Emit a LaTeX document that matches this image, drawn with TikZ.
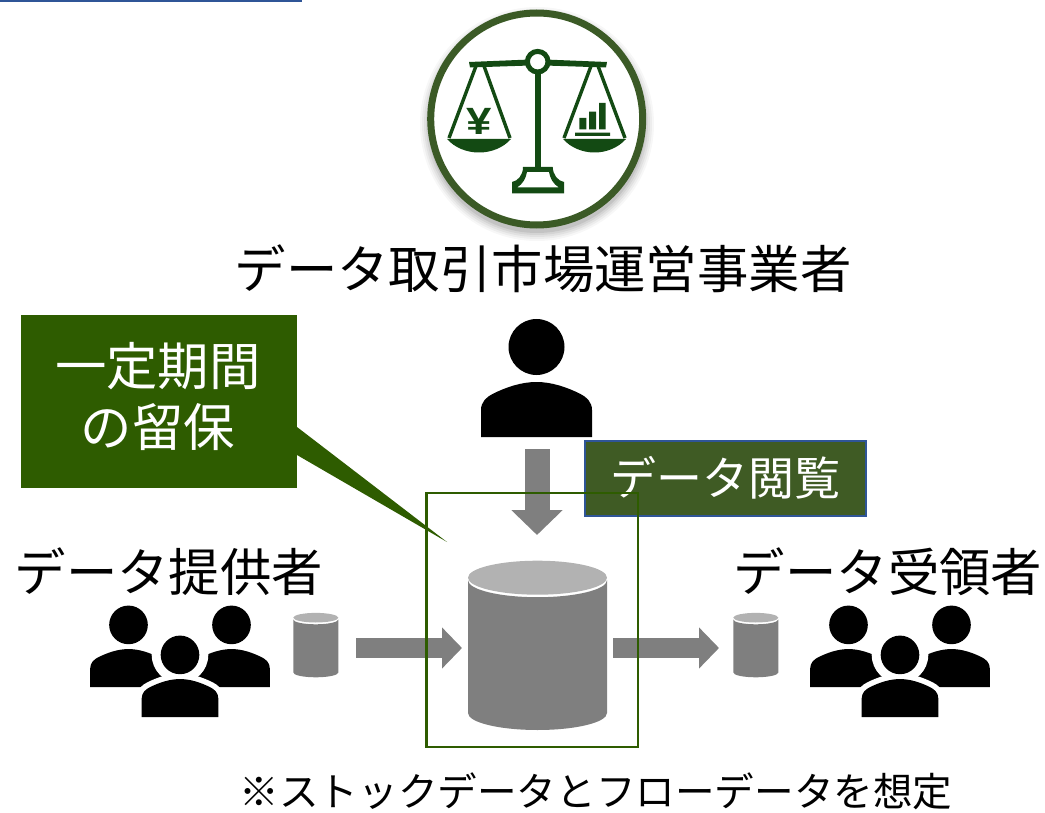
\documentclass[tikz,border=0pt]{standalone}
\usepackage{fontspec}
\setmainfont{Noto Sans CJK JP}
\newfontfamily\yenfont{Liberation Sans}[BoldFont={Liberation Sans Bold}]
\usetikzlibrary{arrows.meta}
\definecolor{navy}{HTML}{2F5597}
\definecolor{ring}{HTML}{3B5A26}
\definecolor{scaleg}{HTML}{134A13}
\definecolor{leaf}{HTML}{2E5C00}
\definecolor{moss}{HTML}{3F5B24}
\definecolor{dbbody}{HTML}{7F7F7F}
\definecolor{dbtop}{HTML}{B2B2B2}
\tikzset{
  blockarrow/.style={draw=dbbody,line width=20pt,-{Triangle[width=40pt,length=20pt,fill=dbbody]}},
  blockarrowv/.style={draw=dbbody,line width=25pt,-{Triangle[width=50pt,length=25pt,fill=dbbody]}},
  label/.style={font=\fontsize{51.4}{61}\selectfont,align=center,inner sep=0pt},
  scaleline/.style={draw=scaleg,line width=3.4pt},
}
% person icon: foot centre x, bottom y, scale
\newcommand{\personicon}[3]{%
  \begin{scope}[shift={(#1,#2)},scale=#3]
    \fill (0,-90) circle (28);
    \fill (-55.5,0) -- (-55.5,-27) .. controls (-55.5,-35) and (-50,-40) .. (-44,-43)
      .. controls (-30,-50) and (-15,-55) .. (0,-55)
      .. controls (15,-55) and (30,-50) .. (44,-43)
      .. controls (50,-40) and (55.5,-35) .. (55.5,-27) -- (55.5,0) -- cycle;
  \end{scope}}
\newcommand{\personhalo}[3]{%
  \begin{scope}[shift={(#1,#2)},scale=#3]
    \fill[white] (0,-90) circle (41);
    \draw[white,fill=white,line width=11pt] (-55.5,0) -- (-55.5,-27) .. controls (-55.5,-35) and (-50,-40) .. (-44,-43)
      .. controls (-30,-50) and (-15,-55) .. (0,-55)
      .. controls (15,-55) and (30,-50) .. (44,-43)
      .. controls (50,-40) and (55.5,-35) .. (55.5,-27) -- (55.5,0) -- cycle;
  \end{scope}}
\newcommand{\persongroup}[1]{%
  \begin{scope}[xshift=#1pt]
    \personicon{128.5}{687}{0.69}
    \personicon{231.5}{687}{0.69}
    \personhalo{180}{717}{0.69}
    \personicon{180}{717}{0.69}
  \end{scope}}
% cylinder: left x, right x, top-ellipse centre y, ry, bottom y, gap
\newcommand{\dbcyl}[6]{%
  \pgfmathsetmacro{\dbcx}{(#1+#2)/2}
  \pgfmathsetmacro{\dbrx}{(#2-#1)/2}
  \fill[dbbody] (#1,#3+#6) arc[start angle=180,end angle=360,x radius=\dbrx pt,y radius=#4 pt]
     -- (#2,#5-#4) arc[start angle=360,end angle=180,x radius=\dbrx pt,y radius=#4 pt] -- cycle;
  \fill[dbtop] (\dbcx,#3) ellipse[x radius=\dbrx pt,y radius=#4 pt];}
\begin{document}
\begin{tikzpicture}[x=1pt,y=-1pt]
\useasboundingbox (0,0) rectangle (1045,813);
\fill[navy] (0,0) rectangle (302,2.5);

% emblem
\foreach \r/\o in {117/0.03,115/0.04,113/0.05,111/0.06,109/0.08}
  \fill[black,opacity=\o] (537,124) circle (\r);
\draw[ring,fill=white,line width=7pt] (536.7,119) circle (106);
% scale
\fill[scaleg] (469,62) -- (530,59.5) -- (545,59.5) -- (607,62) -- (606,67.5) -- (545,65.5) -- (530,65.5) -- (470,67.5) -- cycle;
\fill[scaleg] (534.6,68) rectangle (540.8,170);
\draw[scaleg,fill=white,line width=5pt] (537.7,61.7) circle (10.3);
\fill[scaleg,even odd rule] (523,167) -- (552.7,167) .. controls (553,175) and (558,181) .. (564,182) -- (564,193.5) -- (512,193.5) -- (512,182) .. controls (518,181) and (523,175) .. (523,167) -- cycle
  (527,172) -- (549,172) .. controls (550,178) and (553,184) .. (559,187.5) -- (517,187.5) .. controls (523,184) and (526,178) .. (527,172) -- cycle;
\draw[scaleline,line join=round] (476,66) -- (449,138) (484,66) -- (510,138);
\draw[scaleline,line join=round] (591,66) -- (564,138) (598,66) -- (625,138);
\fill[scaleg] (447,139) .. controls (455,148) and (467,152.5) .. (479,152.5) .. controls (491,152.5) and (503,148) .. (511,139) -- cycle;
\fill[scaleg] (563,139) .. controls (571,148) and (583,152.5) .. (594.5,152.5) .. controls (606,152.5) and (618,148) .. (626,139) -- cycle;
\node[font=\yenfont\bfseries\fontsize{38}{38}\selectfont,text=scaleg,inner sep=0pt,xscale=1.2,transform shape] (yen) at (479.5,121) {¥};
\fill[scaleg] (579.3,118) rectangle (586.3,129.3) (589,111.7) rectangle (596,129.3) (599,103) rectangle (605.6,129.3) (575,132.7) rectangle (610,136);

\node[label] (market) at (543,269) {データ取引市場運営事業者};
\node[label] (provider) at (169,572) {データ提供者};
\node[label] (receiver) at (888,572) {データ受領者};
\node[label,font=\fontsize{39.6}{45}\selectfont] (note) at (596,791) {※ストックデータとフローデータを想定};

% people
\personicon{536.5}{437}{1}
\persongroup{0}
\persongroup{720}

% databases
\dbcyl{468}{607}{577.7}{17}{730}{2.5}
\dbcyl{293.3}{338.3}{617.7}{4.8}{677.3}{1.8}
\dbcyl{733.3}{778.3}{617.7}{4.8}{677.3}{1.8}

% arrows
\coordinate (srcOut) at (356,648);
\coordinate (storeIn) at (462,648);
\coordinate (storeOut) at (613,648);
\coordinate (dstIn) at (719,648);
\coordinate (viewerOut) at (537,449);
\coordinate (storeTop) at (537,535);
\draw[blockarrow] (srcOut) -- (storeIn);
\draw[blockarrow] (storeOut) -- (dstIn);
\draw[blockarrowv] (viewerOut) -- (storeTop);

% browse label
\node[draw=navy,fill=moss,line width=2pt,text=white,minimum width=281pt,minimum height=75pt,inner sep=0pt,font=\fontsize{46}{50}\selectfont] (browse) at (725,478) {データ閲覧};

% frame
\draw[leaf,line width=2.6pt] (426.5,493) rectangle (638,747);

% callout
\fill[leaf] (297,427) -- (447,542) -- (297,455) -- cycle;
\node[fill=leaf,minimum width=276pt,minimum height=173pt,inner sep=0pt] (retain) at (159,401.5) {};
\node[label,text=white] (retainText) at (158,396) {一定期間\\の留保};
\end{tikzpicture}
\end{document}
